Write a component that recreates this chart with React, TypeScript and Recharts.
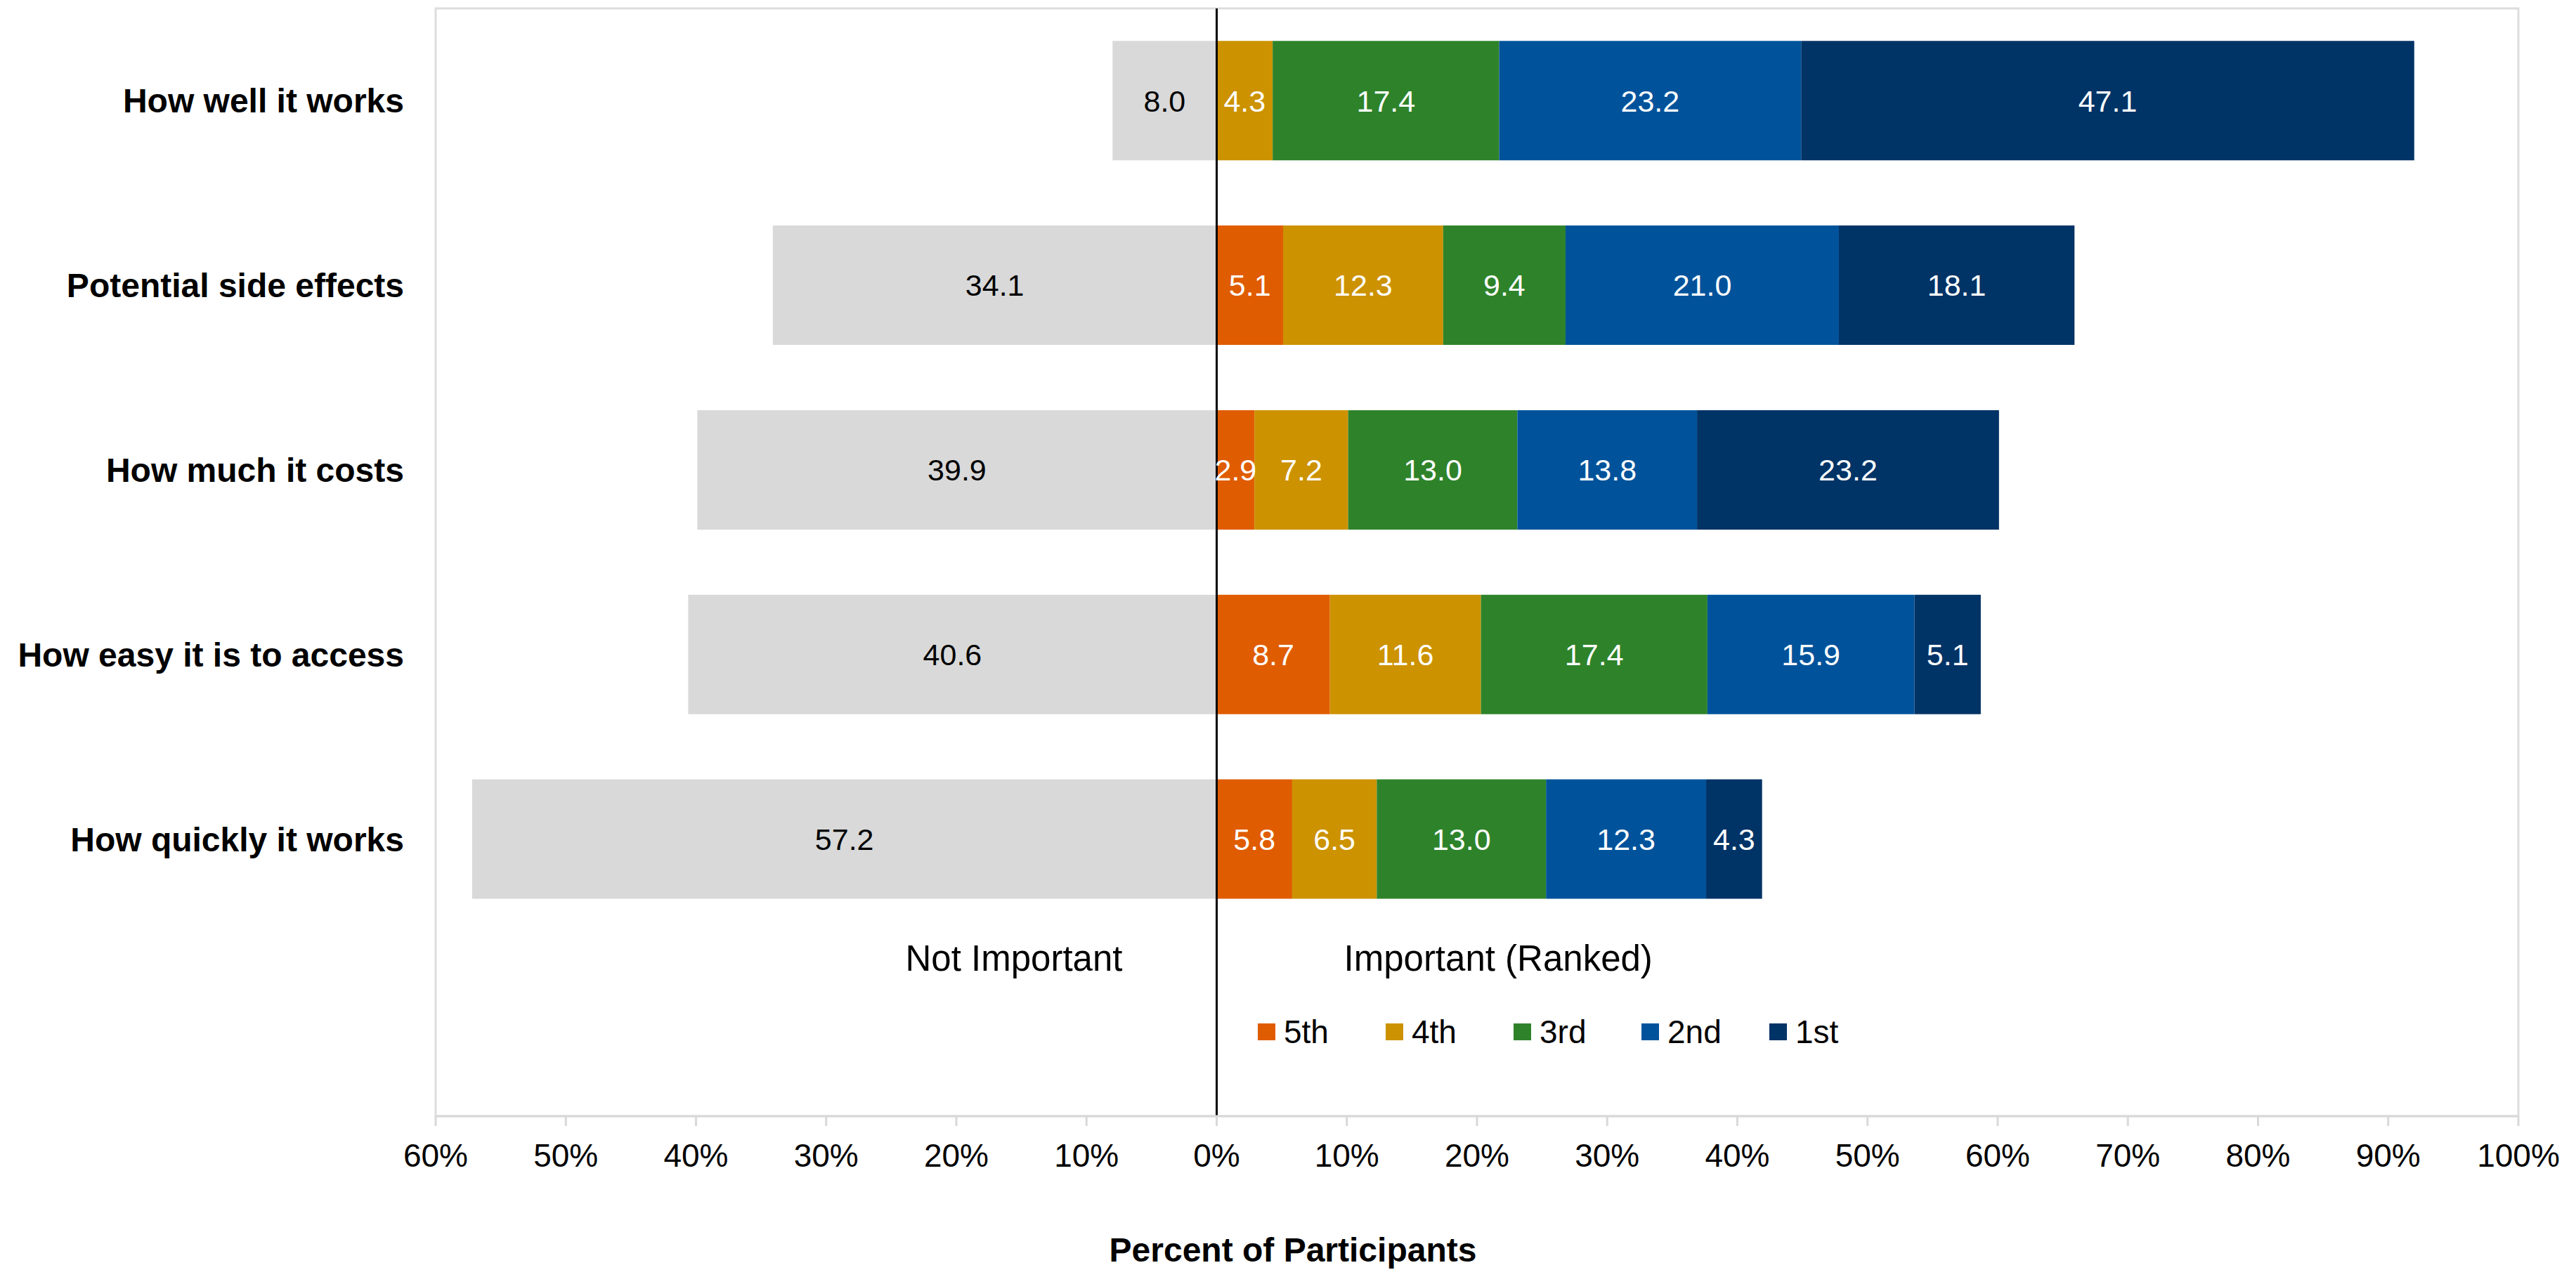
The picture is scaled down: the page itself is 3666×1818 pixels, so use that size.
import React from "react";
import { Bar, BarChart, LabelList, Legend, ReferenceArea, ReferenceLine, XAxis, YAxis } from "recharts";

const categories = [
  "How well it works",
  "Potential side effects",
  "How much it costs",
  "How easy it is to access",
  "How quickly it works",
];
const notImportant = [8.0, 34.1, 39.9, 40.6, 57.2];
const fifth = [0, 5.1, 2.9, 8.7, 5.8];
const fourth = [4.3, 12.3, 7.2, 11.6, 6.5];
const third = [17.4, 9.4, 13.0, 17.4, 13.0];
const second = [23.2, 21.0, 13.8, 15.9, 12.3];
const first = [47.1, 18.1, 23.2, 5.1, 4.3];
const xTicks = [-60, -50, -40, -30, -20, -10, 0, 10, 20, 30, 40, 50, 60, 70, 80, 90, 100];

const ranked = [
  { key: "fifth", name: "5th", color: "#E05C00", values: fifth },
  { key: "fourth", name: "4th", color: "#CC9200", values: fourth },
  { key: "third", name: "3rd", color: "#2E832A", values: third },
  { key: "second", name: "2nd", color: "#00539B", values: second },
  { key: "first", name: "1st", color: "#003366", values: first },
];

// gray "not important" share goes left of zero, so store it negative
const rows: Record<string, string | number>[] = categories.map((name, i) => {
  const row: Record<string, string | number> = { name, notImportant: -notImportant[i] };
  ranked.forEach((s) => (row[s.key] = s.values[i]));
  return row;
});
// empty slot at the bottom that holds the side captions and the legend
rows.push({ name: "" });

const FONT = "'Liberation Sans', Arial, sans-serif";
const CHART_W = 3650;
const CHART_H = 1802;

const showValue = (v: any) => (v ? Math.abs(Number(v)).toFixed(1) : "");

function AxisTitle({ viewBox }: any) {
  return (
    <text x={1832} y={viewBox.y + 190} dy="0.35em" textAnchor="middle" fontSize={48} fontWeight="bold" fill="#000">
      Percent of Participants
    </text>
  );
}

function SideCaptions({ viewBox }: any) {
  const y = viewBox.y + 1352;
  return (
    <g fontSize={51} fill="#000">
      <text x={viewBox.x - 134} y={y} dy="0.35em" textAnchor="end">
        Not Important
      </text>
      <text x={viewBox.x + 181} y={y} dy="0.35em" textAnchor="start">
        Important (Ranked)
      </text>
    </g>
  );
}

// only the ranked series, in rank order 5th -> 1st
function RankLegend() {
  return (
    <div style={{ display: "flex", alignItems: "center", height: 46 }}>
      {ranked.map((s) => (
        <div key={s.key} style={{ display: "flex", alignItems: "center", width: 182 }}>
          <span style={{ display: "inline-block", width: 25, height: 24, background: s.color, marginRight: 12 }} />
          <span style={{ fontSize: 46, lineHeight: "46px", color: "#000", fontFamily: FONT }}>{s.name}</span>
        </div>
      ))}
    </div>
  );
}

export default function App() {
  return (
    <div style={{ fontFamily: FONT, width: CHART_W, height: CHART_H, background: "#fff" }}>
      <BarChart
        width={CHART_W}
        height={CHART_H}
        data={rows}
        layout="vertical"
        stackOffset="sign"
        barCategoryGap="17.6%"
        margin={{ top: 4, right: 74, bottom: 0, left: 0 }}
      >
        <XAxis
          type="number"
          domain={[-60, 100]}
          ticks={xTicks}
          interval={0}
          tickFormatter={(v) => `${Math.abs(v)}%`}
          height={221}
          tick={{ fill: "#000", fontSize: 46 }}
          tickSize={14}
          tickMargin={25}
          tickLine={{ stroke: "#D9D9D9", strokeWidth: 3 }}
          axisLine={{ stroke: "#D9D9D9", strokeWidth: 3 }}
          label={<AxisTitle />}
        />
        <YAxis
          type="category"
          dataKey="name"
          width={612}
          tickSize={0}
          tickMargin={45}
          axisLine={false}
          tick={{ fill: "#000", fontSize: 48, fontWeight: "bold" }}
        />
        <ReferenceArea x1={-60} x2={100} fill="none" stroke="#DDDDDD" strokeWidth={3} />
        <Bar dataKey="notImportant" name="Not Important" stackId="a" fill="#D9D9D9" legendType="none" isAnimationActive={false}>
          <LabelList dataKey="notImportant" position="center" formatter={showValue} fill="#000" fontSize={43} />
        </Bar>
        {ranked.map((s) => (
          <Bar key={s.key} dataKey={s.key} name={s.name} stackId="a" fill={s.color} isAnimationActive={false}>
            <LabelList dataKey={s.key} position="center" formatter={showValue} fill="#fff" fontSize={43} />
          </Bar>
        ))}
        <ReferenceLine x={0} stroke="#000" strokeWidth={3} label={<SideCaptions />} />
        <Legend
          layout="horizontal"
          align="center"
          verticalAlign="middle"
          content={<RankLegend />}
          wrapperStyle={{ left: 1782, top: 1438, width: 1000 }}
        />
      </BarChart>
    </div>
  );
}
